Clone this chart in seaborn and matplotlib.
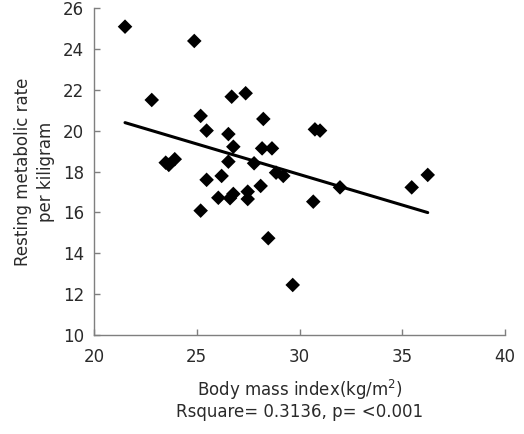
import matplotlib
matplotlib.use("Agg")
import matplotlib.pyplot as plt
import seaborn as sns
import pandas as pd

bmi = [21.51, 24.88, 22.81, 26.70, 27.38, 25.19, 25.48, 26.54, 28.24, 26.78,
       28.18, 28.66, 23.49, 23.93, 23.64, 26.54, 27.79, 28.86, 29.21, 25.48,
       26.21, 28.11, 26.05, 26.62, 26.78, 27.48, 27.48, 25.19, 28.48, 29.67,
       30.75, 31.00, 31.97, 30.67, 35.46, 36.24]
rmr = [25.10, 24.40, 21.51, 21.67, 21.84, 20.73, 20.01, 19.84, 20.58, 19.22,
       19.14, 19.14, 18.44, 18.61, 18.33, 18.49, 18.41, 17.95, 17.79, 17.60,
       17.79, 17.30, 16.72, 16.70, 16.91, 17.02, 16.66, 16.09, 14.74, 12.45,
       20.07, 20.01, 17.23, 16.53, 17.23, 17.84]
x_ticks = [20, 25, 30, 35, 40]
y_ticks = [10, 12, 14, 16, 18, 20, 22, 24, 26]

df = pd.DataFrame({"bmi": bmi, "rmr": rmr})

sns.set_theme(style="white")
plt.rcParams['font.family'] = ['DejaVu Sans']

fig = plt.figure(figsize=(5.24, 4.34), dpi=100)
ax = fig.add_axes([94/524, 1 - 335/434, (505-94)/524, (335-8.3)/434])

sns.regplot(data=df, x="bmi", y="rmr", ax=ax, ci=None, truncate=True,
            marker="D", color="black",
            scatter_kws={"s": 55, "edgecolor": "none", "alpha": 1.0},
            line_kws={"linewidth": 2.2, "color": "black"})

ax.set_xlim(20, 40)
ax.set_ylim(10, 26)
ax.set_xticks(x_ticks)
ax.set_yticks(y_ticks)
gray = "#7f7f7f"
for s in ["top", "right"]:
    ax.spines[s].set_visible(False)
for s in ["left", "bottom"]:
    ax.spines[s].set_color(gray)
    ax.spines[s].set_linewidth(1.0)
ax.tick_params(bottom=True, left=True, top=False, right=False,
               direction="in", length=4, width=1, color=gray,
               labelsize=12, labelcolor="#2a2a2a", pad=9)
ax.tick_params(axis="y", pad=7)
ax.set_xlabel("Body mass index(kg/m$^2$)\nRsquare= 0.3136, p= <0.001",
              fontsize=12, color="#2a2a2a", labelpad=9, linespacing=1.05)
ax.set_ylabel("Resting metabolic rate\nper kiligram", fontsize=12,
              color="#2a2a2a", labelpad=6, linespacing=1.3)

fig.savefig("out.png", dpi=100)
